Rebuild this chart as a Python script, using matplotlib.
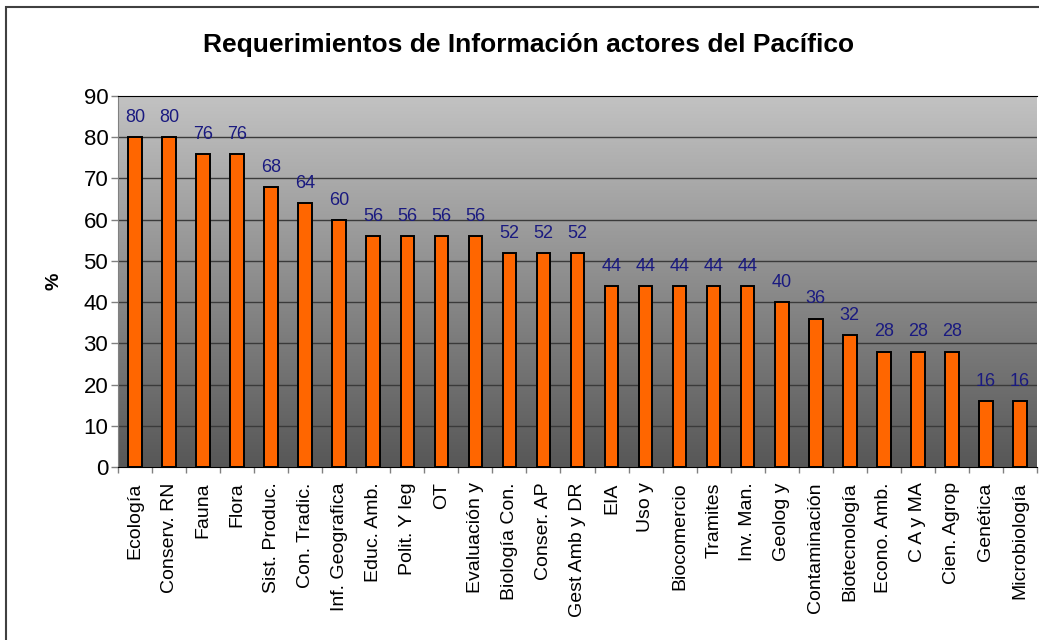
import numpy as np
import matplotlib
matplotlib.use("Agg")
import matplotlib.pyplot as plt
from matplotlib.patches import Rectangle

plt.rcParams['font.family'] = ['Liberation Sans', 'DejaVu Sans']

categories = ['Ecología', 'Conserv. RN', 'Fauna', 'Flora', 'Sist. Produc.',
              'Con. Tradic.', 'Inf. Geografica', 'Educ. Amb.', 'Polit. Y leg',
              'OT', 'Evaluación y', 'Biología Con.', 'Conser. AP',
              'Gest Amb y DR', 'EIA', 'Uso y', 'Biocomercio', 'Tramites',
              'Inv. Man.', 'Geolog y', 'Contaminación', 'Biotecnología',
              'Econo. Amb.', 'C A y MA', 'Cien. Agrop', 'Genética',
              'Microbiología']
values = [80, 80, 76, 76, 68, 64, 60, 56, 56, 56, 56, 52, 52, 52,
          44, 44, 44, 44, 44, 40, 36, 32, 28, 28, 28, 16, 16]
y_ticks = list(range(0, 91, 10))

W, H = 1039, 640
fig = plt.figure(figsize=(W / 100, H / 100), dpi=100)
ax = fig.add_axes([118 / W, (H - 467) / H, 919 / W, 371 / H])

x = np.arange(len(categories))
ax.set_xlim(-0.5, len(categories) - 0.5)
ax.set_ylim(0, 90)

# gradient background of the plot area
grad = np.linspace(0, 1, 256).reshape(-1, 1)
cmap = matplotlib.colors.LinearSegmentedColormap.from_list(
    'bg', ['#575757', '#c2c2c2'])
ax.imshow(grad, cmap=cmap, aspect='auto', extent=(0, 1, 0, 1),
          transform=ax.transAxes, origin='lower', zorder=0)

for yv in y_ticks[1:-1]:
    ax.axhline(yv, color='#3a3a3a', lw=1.0, zorder=1)

bars = ax.bar(x, values, width=0.4, color='#ff6600', edgecolor='black',
              linewidth=1.4, zorder=2)

for xi, v in zip(x, values):
    ax.annotate(str(v), (xi, v), xytext=(0, 8), textcoords='offset points',
                ha='center', va='bottom', fontsize=13, color='#1a1a80')

ax.set_xticks(x)
ax.set_xticklabels(categories, rotation=90, fontsize=14)
ax.set_xticks(np.arange(-0.5, len(categories)), minor=True)
ax.tick_params(axis='x', which='major', length=0, pad=11)
ax.tick_params(axis='x', which='minor', length=4.5, color='#808080', width=1)
ax.set_yticks(y_ticks)
ax.tick_params(axis='y', labelsize=16, length=5, color='#808080', width=1,
               pad=2)

ax.set_ylabel('%', fontsize=14, fontweight='bold', labelpad=15)

ax.spines['left'].set_color('#808080')
ax.spines['bottom'].set_color('black')
ax.spines['top'].set_color('black')
ax.spines['right'].set_visible(False)

fig.suptitle('Requerimientos de Información actores del Pacífico',
             x=529 / W, y=1 - 45 / H, va='center', fontsize=19,
             fontweight='bold')

# outer chart border
fig.patches.append(Rectangle((6 / W, -0.1), 1.2, 1.1 - 6.5 / H,
                             transform=fig.transFigure, fill=False,
                             edgecolor='#404040', lw=1.5))

fig.savefig('out.png', dpi=100)
